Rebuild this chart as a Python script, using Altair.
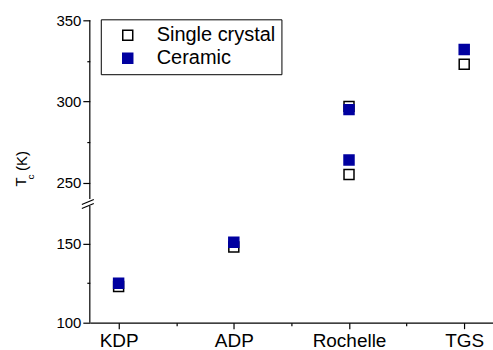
import altair as alt
import pandas as pd

# ---- data ----
categories = ["KDP", "ADP", "Rochelle", "TGS"]
materials = ["KDP", "ADP", "Rochelle", "Rochelle", "TGS"]
single_crystal = [123, 148, 255, 297, 323]
ceramic = [125, 151, 264, 295, 332]
series = ["Single crystal", "Ceramic"]
y_ticks = [100, 125, 150, 250, 275, 300, 325, 350]
x_ticks = [1, 1.5, 2, 2.5, 3, 3.5, 4]
y_lower = [100, 174]
y_upper = [240, 350]

NAVY = "#0000A0"
FONT = "Liberation Sans"
W, H = 404, 303

rows = []
for s, vals in zip(series, [single_crystal, ceramic]):
    for m, v in zip(materials, vals):
        rows.append({"idx": categories.index(m) + 1, "value": v, "series": s,
                     "ord": series.index(s)})
df = pd.DataFrame(rows)

segs = pd.DataFrame({"y0": [y_lower[0], y_upper[0]], "y1": [y_lower[1], y_upper[1]]})

yscale = alt.Scale(domain=[y_lower[0], y_lower[1], y_upper[0], y_upper[1]],
                   range=[H, 186, 179, 0], nice=False, zero=False)
xscale = alt.Scale(domain=[0.75, 4.25], nice=False, zero=False)

cat_js = "[" + ",".join("'" + c + "'" for c in categories) + "]"
xaxis = alt.Axis(values=x_ticks, title=None, grid=False,
                 labelExpr="(datum.value % 1 == 0) ? " + cat_js + "[datum.value - 1] : ''",
                 domainColor="black", domainWidth=1.2, tickColor="black", tickWidth=1.2,
                 tickSize={"condition": {"test": "datum.value % 1 != 0", "value": 3}, "value": 6},
                 labelFont=FONT, labelFontSize=19, labelColor="black", labelPadding=3,
                 labelFlush=False, labelOverlap=False)
yaxis = alt.Axis(values=y_ticks, title=None, grid=False, domain=False,
                 labelExpr="(datum.value % 50 == 0) ? datum.label : ''",
                 tickColor="black", tickWidth=1.2,
                 tickSize={"condition": {"test": "datum.value % 50 != 0", "value": 3}, "value": 7},
                 labelFont=FONT, labelFontSize=15, labelColor="black", labelPadding=2,
                 labelFlush=False, labelOverlap=False)

legend = alt.Legend(title=None, orient="none", legendX=11, legendY=-1,
                    strokeColor="black", fillColor="white", padding=6,
                    symbolOffset=11, labelOffset=19, rowPadding=3,
                    symbolType="square", symbolSize=100, symbolStrokeWidth=1.5,
                    labelFont=FONT, labelFontSize=20, labelColor="black")

points = alt.Chart(df).mark_square(size=100, strokeWidth=1.5, opacity=1).encode(
    x=alt.X("idx:Q", scale=xscale, axis=xaxis),
    y=alt.Y("value:Q", scale=yscale, axis=yaxis),
    fill=alt.Fill("series:N", scale=alt.Scale(domain=series, range=["white", NAVY]), legend=legend),
    stroke=alt.Stroke("series:N", scale=alt.Scale(domain=series, range=["black", NAVY]), legend=legend),
    order=alt.Order("ord:Q"),
)

axis_lines = alt.Chart(segs).mark_rule(color="black", strokeWidth=1.2).encode(
    x=alt.value(0),
    y=alt.Y("y0:Q", scale=yscale, axis=yaxis),
    y2="y1:Q",
)

one = pd.DataFrame({"a": [0]})
break1 = alt.Chart(one).mark_rule(color="black", strokeWidth=1.2).encode(
    x=alt.value(-8), x2=alt.value(4), y=alt.value(184.5), y2=alt.value(179.5))
break2 = alt.Chart(one).mark_rule(color="black", strokeWidth=1.2).encode(
    x=alt.value(-8), x2=alt.value(4), y=alt.value(188.5), y2=alt.value(183.5))

t_T = alt.Chart(one).mark_text(text="T", angle=270, font=FONT, fontSize=15, color="black",
                               align="center", baseline="middle").encode(
    x=alt.value(-68.5), y=alt.value(162))
t_c = alt.Chart(one).mark_text(text="c", angle=270, font=FONT, fontSize=10, color="black",
                               align="center", baseline="middle").encode(
    x=alt.value(-59), y=alt.value(157))
t_K = alt.Chart(one).mark_text(text="(K)", angle=270, font=FONT, fontSize=15, color="black",
                               align="center", baseline="middle").encode(
    x=alt.value(-67.5), y=alt.value(141))

chart = alt.layer(axis_lines, break1, break2, points, t_T, t_c, t_K).properties(
    width=W, height=H,
    autosize=alt.AutoSizeParams(type="none"),
    padding={"left": 90, "top": 20, "right": 0, "bottom": 27},
    background="white",
).configure_view(stroke=None)

chart.save("out.html", embed_options={"renderer": "svg", "actions": False})
